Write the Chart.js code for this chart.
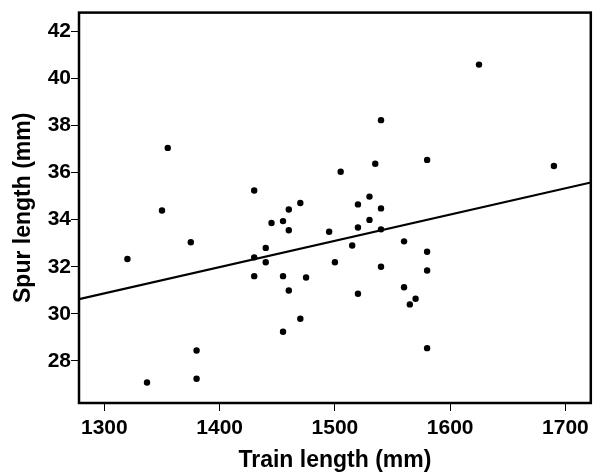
<!DOCTYPE html>
<html>
<head>
<meta charset="utf-8">
<script src="https://cdn.jsdelivr.net/npm/chart.js@4/dist/chart.umd.min.js"></script>
<style>
  html, body { margin: 0; padding: 0; background: #fff; }
  canvas { display: block; }
</style>
</head>
<body>
<canvas id="scatterChart" width="594" height="476"></canvas>
<script>
// --- Data ---
const trainLength = [
  1320, 1337, 1350, 1355, 1375, 1380, 1380,
  1430, 1430, 1430, 1440, 1440, 1445,
  1455, 1455, 1455, 1460, 1460, 1460,
  1470, 1470, 1475, 1495, 1500, 1505, 1515,
  1520, 1520, 1520, 1530, 1530, 1535,
  1540, 1540, 1540, 1540, 1560, 1560, 1565, 1570,
  1580, 1580, 1580, 1580, 1625, 1690
];
const spurLength = [
  32.33, 27.08, 34.39, 37.05, 33.04, 28.44, 27.24,
  35.24, 32.40, 31.60, 32.80, 32.19, 33.86,
  33.94, 31.60, 29.24, 34.43, 33.55, 30.99,
  34.71, 29.79, 31.54, 33.49, 32.19, 36.04, 32.90,
  34.65, 33.67, 30.85, 34.98, 33.99, 36.38,
  38.23, 34.48, 33.59, 32.00, 33.08, 31.13, 30.40, 30.64,
  36.54, 32.64, 31.84, 28.54, 40.59, 36.28
];

// fit line end points (at the plot edges)
const fitX = [1278, 1722];
const fitY = [30.62, 35.58];

const xTicks = [1300, 1400, 1500, 1600, 1700];
const yTicks = [28, 30, 32, 34, 36, 38, 40, 42];

const FONT = "'Liberation Sans', Arial, sans-serif";

// --- Frame round the plot area ---
const frame = {
  id: 'frame',
  afterDatasetsDraw(chart) {
    const { ctx, chartArea: a } = chart;
    ctx.save();
    ctx.strokeStyle = '#000';
    ctx.lineWidth = 2.5;
    ctx.strokeRect(a.left, a.top, a.right - a.left, a.bottom - a.top);
    ctx.restore();
  }
};

const points = trainLength.map((x, i) => ({ x: x, y: spurLength[i] }));
const fitLine = fitX.map((x, i) => ({ x: x, y: fitY[i] }));

new Chart(document.getElementById('scatterChart'), {
  type: 'scatter',
  data: {
    datasets: [
      {
        data: points,
        backgroundColor: '#000',
        borderWidth: 0,
        pointRadius: 3.2,
        pointHoverRadius: 3.2
      },
      {
        type: 'line',
        data: fitLine,
        borderColor: '#000',
        borderWidth: 2.2,
        pointRadius: 0,
        fill: false
      }
    ]
  },
  options: {
    responsive: false,
    animation: false,
    devicePixelRatio: 1,
    layout: { padding: { top: 11, right: 1, left: 0, bottom: 0 } },
    plugins: {
      legend: { display: false },
      tooltip: { enabled: false }
    },
    scales: {
      x: {
        type: 'linear',
        min: 1278,
        max: 1722,
        afterBuildTicks: axis => { axis.ticks = xTicks.map(v => ({ value: v })); },
        afterFit: axis => { axis.height = 73; },
        border: { display: false },
        grid: { drawOnChartArea: false, drawTicks: true, tickLength: 8, color: '#000', lineWidth: 1 },
        ticks: {
          color: '#000',
          padding: 5,
          maxRotation: 0,
          callback: v => String(v),
          font: { family: FONT, size: 21, weight: 'bold' }
        },
        title: {
          display: true,
          text: 'Train length (mm)',
          color: '#000',
          padding: { top: 0, bottom: 1.5 },
          font: { family: FONT, size: 23, weight: 'bold' }
        }
      },
      y: {
        type: 'linear',
        min: 26.21,
        max: 42.8,
        afterBuildTicks: axis => { axis.ticks = yTicks.map(v => ({ value: v })); },
        afterFit: axis => { axis.width = 79; },
        border: { display: false },
        grid: { drawOnChartArea: false, drawTicks: true, tickLength: 8, color: '#000', lineWidth: 1 },
        ticks: {
          color: '#000',
          padding: 0,
          callback: v => String(v),
          font: { family: FONT, size: 21, weight: 'bold' }
        },
        title: {
          display: true,
          text: 'Spur length (mm)',
          color: '#000',
          padding: { top: 10, bottom: 0 },
          font: { family: FONT, size: 23, weight: 'bold' }
        }
      }
    }
  },
  plugins: [frame]
});
</script>
</body>
</html>
